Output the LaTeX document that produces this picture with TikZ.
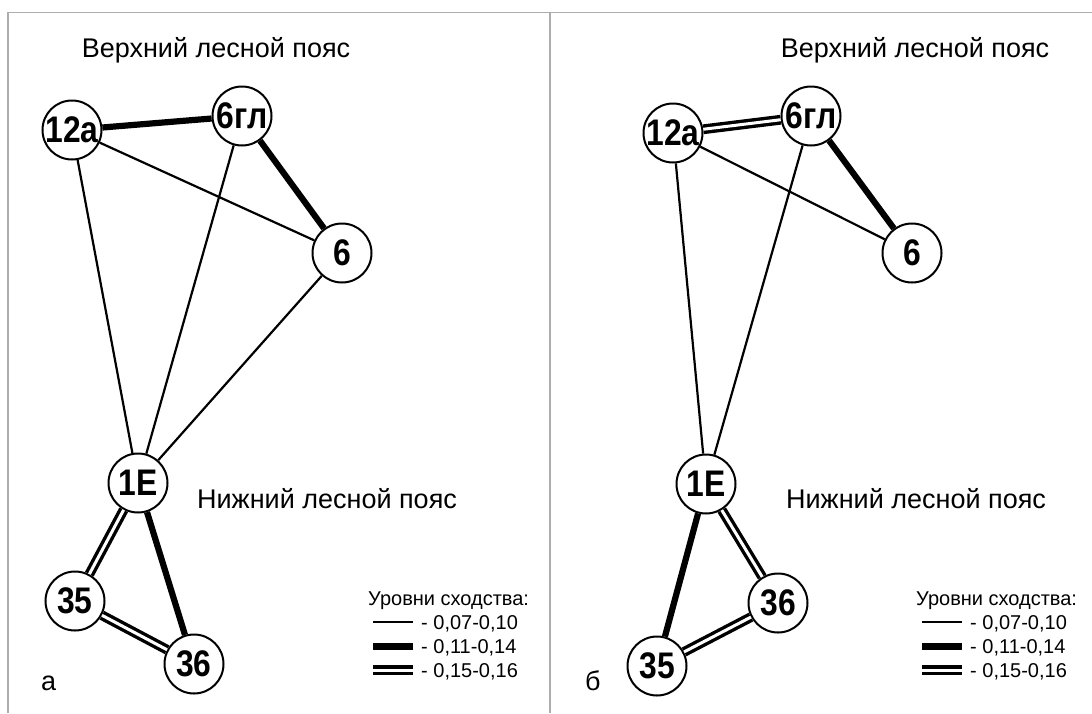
\documentclass[tikz,border=0pt]{standalone}
\usepackage{fontspec}
\setmainfont{Liberation Sans}
\newfontfamily\lblfont[FakeStretch=0.86]{Liberation Sans}
\begin{document}
\begin{tikzpicture}[x=1pt,y=-1pt,
  vert/.style={circle,draw,line width=2pt,fill=white,minimum size=59pt,inner sep=0pt,
    label={[font=\lblfont\bfseries\fontsize{37}{37}\selectfont,inner sep=0pt]center:#1}},
  thin/.style={line width=2.2pt},
  thick/.style={line width=6.2pt},
  dbl/.style={line width=3.4pt,double=white,double distance=3pt},
  title/.style={font=\fontsize{27}{32}\selectfont,anchor=base,inner sep=0pt},
  legtxt/.style={font=\fontsize{20}{24}\selectfont,anchor=base west,inner sep=0pt},
  frame/.style={draw=black!32,line width=1.3pt}
]
\useasboundingbox (0,0) rectangle (1092,713);
% frame
\coordinate (fTL) at (8,12.5);
\coordinate (fTR) at (1092,12.5);
\coordinate (fBL) at (8,713);
\coordinate (dT) at (550,12.5);
\coordinate (dB) at (550,713);
\draw[frame] (fBL) -- (fTL) -- (fTR);
\draw[frame] (dT) -- (dB);

% ---------- left panel ----------
\node[title] (tA1) at (216,57) {Верхний лесной пояс};
\node[title] (tA2) at (327,508) {Нижний лесной пояс};
\node[font=\fontsize{27}{32}\selectfont,anchor=base west,inner sep=0pt] (la) at (41,690) {а};

\node[vert=12а] (a12) at (72,130) {};
\node[vert=6гл] (a6g) at (242,116) {};
\node[vert=6] (a6) at (342,253) {};
\node[vert=1Е] (a1) at (138,483) {};
\node[vert=35] (a35) at (75,601) {};
\node[vert=36] (a36) at (194,664) {};

\draw[thick] (a12) -- (a6g);
\draw[thick] (a6g) -- (a6);
\draw[thin] (a12) -- (a6);
\draw[thin] (a12) -- (a1);
\draw[thin] (a6g) -- (a1);
\draw[thin] (a6) -- (a1);
\draw[dbl] (a1) -- (a35);
\draw[thick] (a1) -- (a36);
\draw[dbl] (a35) -- (a36);

% legend left
\node[legtxt] (lgA) at (368,605) {Уровни сходства:};
\coordinate (lA1s) at (373,622); \coordinate (lA1e) at (413,622);
\coordinate (lA2s) at (373,646); \coordinate (lA2e) at (413,646);
\coordinate (lA3s) at (373,670); \coordinate (lA3e) at (413,670);
\draw[thin] (lA1s) -- (lA1e);
\draw[line width=7pt] (lA2s) -- (lA2e);
\draw[dbl] (lA3s) -- (lA3e);
\node[legtxt] (lA1) at (421,629) {- 0,07-0,10};
\node[legtxt] (lA2) at (421,653) {- 0,11-0,14};
\node[legtxt] (lA3) at (421,677) {- 0,15-0,16};

% ---------- right panel ----------
\node[title] (tB1) at (915,57) {Верхний лесной пояс};
\node[title] (tB2) at (916,508) {Нижний лесной пояс};
\node[font=\fontsize{27}{32}\selectfont,anchor=base west,inner sep=0pt] (lb) at (585,690) {б};

\node[vert=12а] (b12) at (673,133) {};
\node[vert=6гл] (b6g) at (811,116) {};
\node[vert=6] (b6) at (912,253) {};
\node[vert=1Е] (b1) at (706,484) {};
\node[vert=36] (b36) at (778,603) {};
\node[vert=35] (b35) at (657,666) {};

\draw[dbl] (b12) -- (b6g);
\draw[thick] (b6g) -- (b6);
\draw[thin] (b12) -- (b6);
\draw[thin] (b12) -- (b1);
\draw[thin] (b6g) -- (b1);
\draw[dbl] (b1) -- (b36);
\draw[thick] (b1) -- (b35);
\draw[dbl] (b35) -- (b36);

% legend right
\node[legtxt] (lgB) at (916,605) {Уровни сходства:};
\coordinate (lB1s) at (922,622); \coordinate (lB1e) at (962,622);
\coordinate (lB2s) at (922,646); \coordinate (lB2e) at (962,646);
\coordinate (lB3s) at (922,670); \coordinate (lB3e) at (962,670);
\draw[thin] (lB1s) -- (lB1e);
\draw[line width=7pt] (lB2s) -- (lB2e);
\draw[dbl] (lB3s) -- (lB3e);
\node[legtxt] (lB1) at (970,629) {- 0,07-0,10};
\node[legtxt] (lB2) at (970,653) {- 0,11-0,14};
\node[legtxt] (lB3) at (970,677) {- 0,15-0,16};
\end{tikzpicture}
\end{document}
